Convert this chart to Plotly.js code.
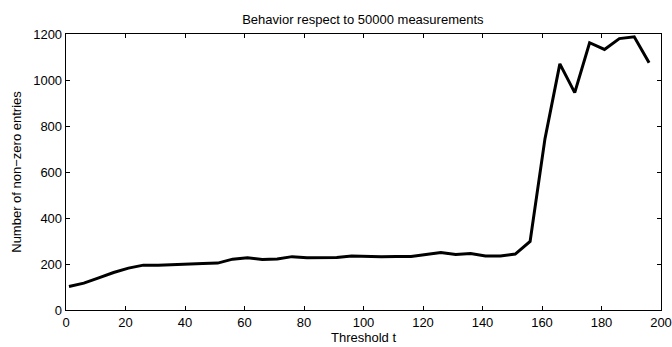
<!DOCTYPE html>
<html>
<head>
<meta charset="utf-8">
<script src="https://cdn.plot.ly/plotly-3.0.1.min.js"></script>
<style>html,body{margin:0;padding:0;background:#fff;}#chart{width:672px;height:347px;}</style>
</head>
<body>
<div id="chart"></div>
<script>
const thresholds = [1,6,11,16,21,26,31,36,41,46,51,56,61,66,71,76,81,86,91,96,101,106,111,116,121,126,131,136,141,146,151,156,161,166,171,176,181,186,191,196];
const nonZeroEntries = [102,117,140,163,182,195,195,198,202,202,204,221,227,220,222,232,227,227,228,235,232,232,233,233,241,250,241,246,235,235,243,298,745,1070,945,1162,1133,1180,1188,1075];
const xTicks = [0,20,40,60,80,100,120,140,160,180,200];
const yTicks = [0,200,400,600,800,1000,1200];

const fontFam = 'Liberation Sans, Arial, sans-serif';
const trace = {
  x: thresholds, y: nonZeroEntries, type: 'scatter', mode: 'lines',
  line: {color: '#000', width: 3}, hoverinfo: 'skip'
};
const axisCommon = {
  showgrid: false, zeroline: false, showline: true, linecolor: '#000', linewidth: 1.3,
  mirror: 'allticks', ticks: 'inside', ticklen: 4, tickwidth: 1, tickcolor: '#000',
  tickfont: {family: fontFam, size: 13, color: '#000'}, tickmode: 'array'
};
const layout = {
  width: 672, height: 347,
  margin: {l: 66, r: 11, t: 34, b: 37},
  paper_bgcolor: '#fff', plot_bgcolor: '#fff',
  showlegend: false,
  title: {text: 'Behavior respect to 50000 measurements', font: {family: fontFam, size: 13, color: '#000'}, x: 0.54, xanchor: 'center', y: 0.945, yanchor: 'middle'},
  xaxis: Object.assign({}, axisCommon, {range: [0, 200], tickvals: xTicks, ticktext: xTicks.map(String),
    title: {text: 'Threshold t', font: {family: fontFam, size: 13, color: '#000'}, standoff: 0}}),
  yaxis: Object.assign({}, axisCommon, {range: [0, 1200], tickvals: yTicks, ticktext: yTicks.map(String),
    title: {text: 'Number of non\u2212zero entries', font: {family: fontFam, size: 13, color: '#000'}, standoff: 8}})
};
Plotly.newPlot('chart', [trace], layout, {staticPlot: true, displayModeBar: false});
</script>
</body>
</html>
